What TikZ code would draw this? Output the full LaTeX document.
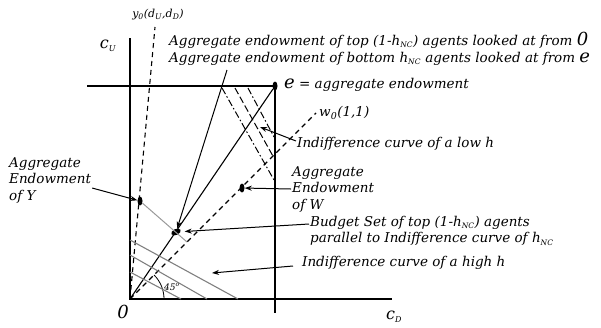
\documentclass[tikz,border=0pt]{standalone}
\usepackage{fontspec}
\setmainfont{DejaVu Serif}
\usepackage{tikz}
\usetikzlibrary{arrows.meta,positioning,shapes.geometric}
\newcommand{\nc}{\textsubscript{\fontsize{7.5}{7.5}\selectfont NC}}
\tikzset{
  lbl/.style={font=\itshape\fontsize{13.5}{16.5}\selectfont, inner sep=1pt, align=left},
  arrow/.style={-{Stealth[length=7pt,width=5pt]}, line width=1pt},
  endow/.style={ellipse, fill=black, inner sep=0pt, minimum width=5pt, minimum height=9pt},
  axis/.style={line width=1.3pt},
  ray/.style={line width=1.1pt, dash pattern=on 5pt off 4pt},
  icurve/.style={gray, line width=1.1pt},
  lowdd/.style={line width=1pt, dash pattern=on 7pt off 2.5pt on 1.5pt off 2.5pt},
  lowd/.style={line width=1pt, dash pattern=on 7pt off 3pt},
}

\begin{document}
\begin{tikzpicture}[x=1pt, y=-1pt]
  \useasboundingbox (0,0) rectangle (601,327);

  % axes
  \coordinate (O) at (130,299);
  \coordinate (ytop) at (130,38);
  \coordinate (xend) at (392,299);
  \draw[axis] (ytop) -- (O) -- (xend);
  \node[lbl, font=\itshape\fontsize{16}{16}\selectfont] (cU) at (108,46) {c\textsubscript{\fontsize{8}{8}\selectfont U}};
  \node[lbl, font=\itshape\fontsize{16}{16}\selectfont] (cD) at (394,317) {c\textsubscript{\fontsize{8}{8}\selectfont D}};
  \node[lbl, font=\itshape\fontsize{18}{18}\selectfont] (zero) at (123,312) {0};

  % endowment box corner
  \node[endow] (e) at (275,86) {};
  \coordinate (eleft) at (87,86);
  \coordinate (ebot) at (275,313);
  \draw[axis] (eleft) -- (e.center) -- (ebot);
  \node[lbl, anchor=west] (elbl) at (283,85) {{\fontsize{18}{18}\selectfont e} = aggregate endowment};

  % rays from the origin
  \coordinate (y0end) at (155,27);
  \draw[ray] (O) -- (y0end);
  \node[lbl, font=\itshape\fontsize{11}{11}\selectfont] (y0lbl) at (158,15)
    {y\textsubscript{0}(d\textsubscript{U},d\textsubscript{D})};
  \draw[line width=1.1pt] (O) -- (e);
  \coordinate (w0end) at (316,113);
  \draw[ray] (O) -- (w0end);
  \node[lbl, anchor=west] (w0lbl) at (318,113) {w\textsubscript{0}(1,1)};
  \draw[line width=0.8pt] ([xshift=34pt]O) arc[start angle=0, end angle=45, radius=34pt];
  \node[lbl, font=\itshape\fontsize{9}{9}\selectfont] (ang) at (172,287) {45\textsuperscript{o}};

  % endowment points
  \node[endow] (Y) at (140,201) {};
  \node[endow] (W) at (242,188) {};
  \node[endow, minimum width=10pt, minimum height=6pt, rotate=25] (B) at (176,232) {};
  \coordinate (Yend) at (187,242);
  \draw[gray!80, line width=1pt] (Y) -- (Yend);

  % indifference curves, high h
  \draw[icurve] (130,240) -- (238,299);
  \draw[icurve] (130,255) -- (207,299);
  \draw[icurve] (130,272) -- (181,299);

  % indifference curves, low h
  \draw[lowdd] (222,88) -- (274,180);
  \draw[lowd] (235,88) -- (274,158);
  \draw[lowdd] (248,88) -- (274,137);

  % labels
  \node[lbl, anchor=north west] (toptxt) at (168,31)
    {Aggregate endowment of top (1-h\nc) agents looked at from {\fontsize{18}{18}\selectfont 0}\\
     Aggregate endowment of bottom h\nc{} agents looked at from {\fontsize{18}{18}\selectfont e}};
  \coordinate (aggfoot) at (227,70);
  \draw[arrow] (aggfoot) -- (B);

  \node[lbl, anchor=west] (lowtxt) at (296,144) {Indifference curve of a low h};
  \coordinate (lowtip) at (260,127);
  \draw[arrow] ([yshift=3pt]lowtxt.west) -- (lowtip);

  \node[lbl, anchor=west] (Wtxt) at (291,189) {Aggregate\\Endowment\\of W};
  \draw[arrow] (Wtxt.west) -- (W);

  \node[lbl, anchor=north west] (Ytxt) at (8,156) {Aggregate\\Endowment\\of Y};
  \draw[arrow] ([yshift=-8pt]Ytxt.east) -- (Y);

  \node[lbl, anchor=west] (budtxt) at (309,231)
    {Budget Set of top (1-h\nc) agents\\
     parallel to Indifference curve of h\nc};
  \draw[arrow, shorten >=4pt] ([yshift=7pt]budtxt.west) -- (B);

  \node[lbl, anchor=west] (hightxt) at (301,263) {Indifference curve of a high h};
  \coordinate (hightip) at (212,273);
  \draw[arrow] ([xshift=-8pt,yshift=-3pt]hightxt.west) -- (hightip);
\end{tikzpicture}
\end{document}
